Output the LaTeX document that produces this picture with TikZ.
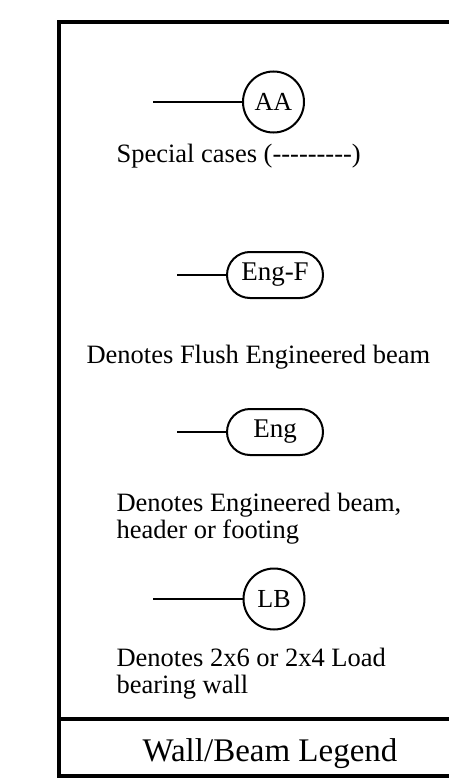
\documentclass[tikz,border=0pt]{standalone}
\usepackage{fontspec}
\setmainfont{Liberation Serif}[Ligatures=TeXOff]
\usetikzlibrary{shapes.misc}
\usetikzlibrary{positioning}
\tikzset{
    tagc/.style = {circle, line width=2pt, draw=black, minimum size=61pt, inner sep=0pt, font=\fontsize{26}{28}\selectfont},
    tagr/.style = {rounded rectangle, line width=2pt, draw=black, minimum width=96pt, minimum height=46pt, inner sep=0pt, font=\fontsize{27}{28}\selectfont},
    leader/.style = {-, line width=2pt, black},
    frame/.style = {line width=4.5pt, black},
    legtext/.style = {anchor=base west, align=left, font=\fontsize{26.5}{27}\selectfont},
    titletext/.style = {anchor=base, font=\fontsize{33}{36}\selectfont}
}
\begin{document}
\begin{tikzpicture}[x=1pt, y=-1pt]
  \useasboundingbox (0,0) rectangle (449,784);
  % frame
  \draw[frame] (470,22) -- (59,22) -- (59,776) -- (470,776);
  \draw[frame] (59,719) -- (470,719);
  % special cases
  \node[tagc] (aa) at (273.5,102) {AA};
  \coordinate (aastart) at (153,102);
  \draw[leader] (aastart) -- (aa.west);
  \node[legtext] (aatext) at (113,162) {Special cases (---------)};
  % flush engineered beam
  \node[tagr] (engf) at (275,275) {Eng-F};
  \coordinate (engfstart) at (177,275);
  \draw[leader] (engfstart) -- (engf.west);
  \node[legtext] (engftext) at (83,363) {Denotes Flush Engineered beam};
  % engineered beam
  \node[tagr] (eng) at (275,432) {Eng};
  \coordinate (engstart) at (177,432);
  \draw[leader] (engstart) -- (eng.west);
  \node[legtext] (engtext) at (113,538) {Denotes Engineered beam,\\header or footing};
  % load bearing wall
  \node[tagc] (lb) at (274,599) {LB};
  \coordinate (lbstart) at (153,599);
  \draw[leader] (lbstart) -- (lb.west);
  \node[legtext] (lbtext) at (113,693) {Denotes 2x6 or 2x4 Load\\bearing wall};
  % title
  \node[titletext] (title) at (270,761) {Wall/Beam Legend};
\end{tikzpicture}
\end{document}
